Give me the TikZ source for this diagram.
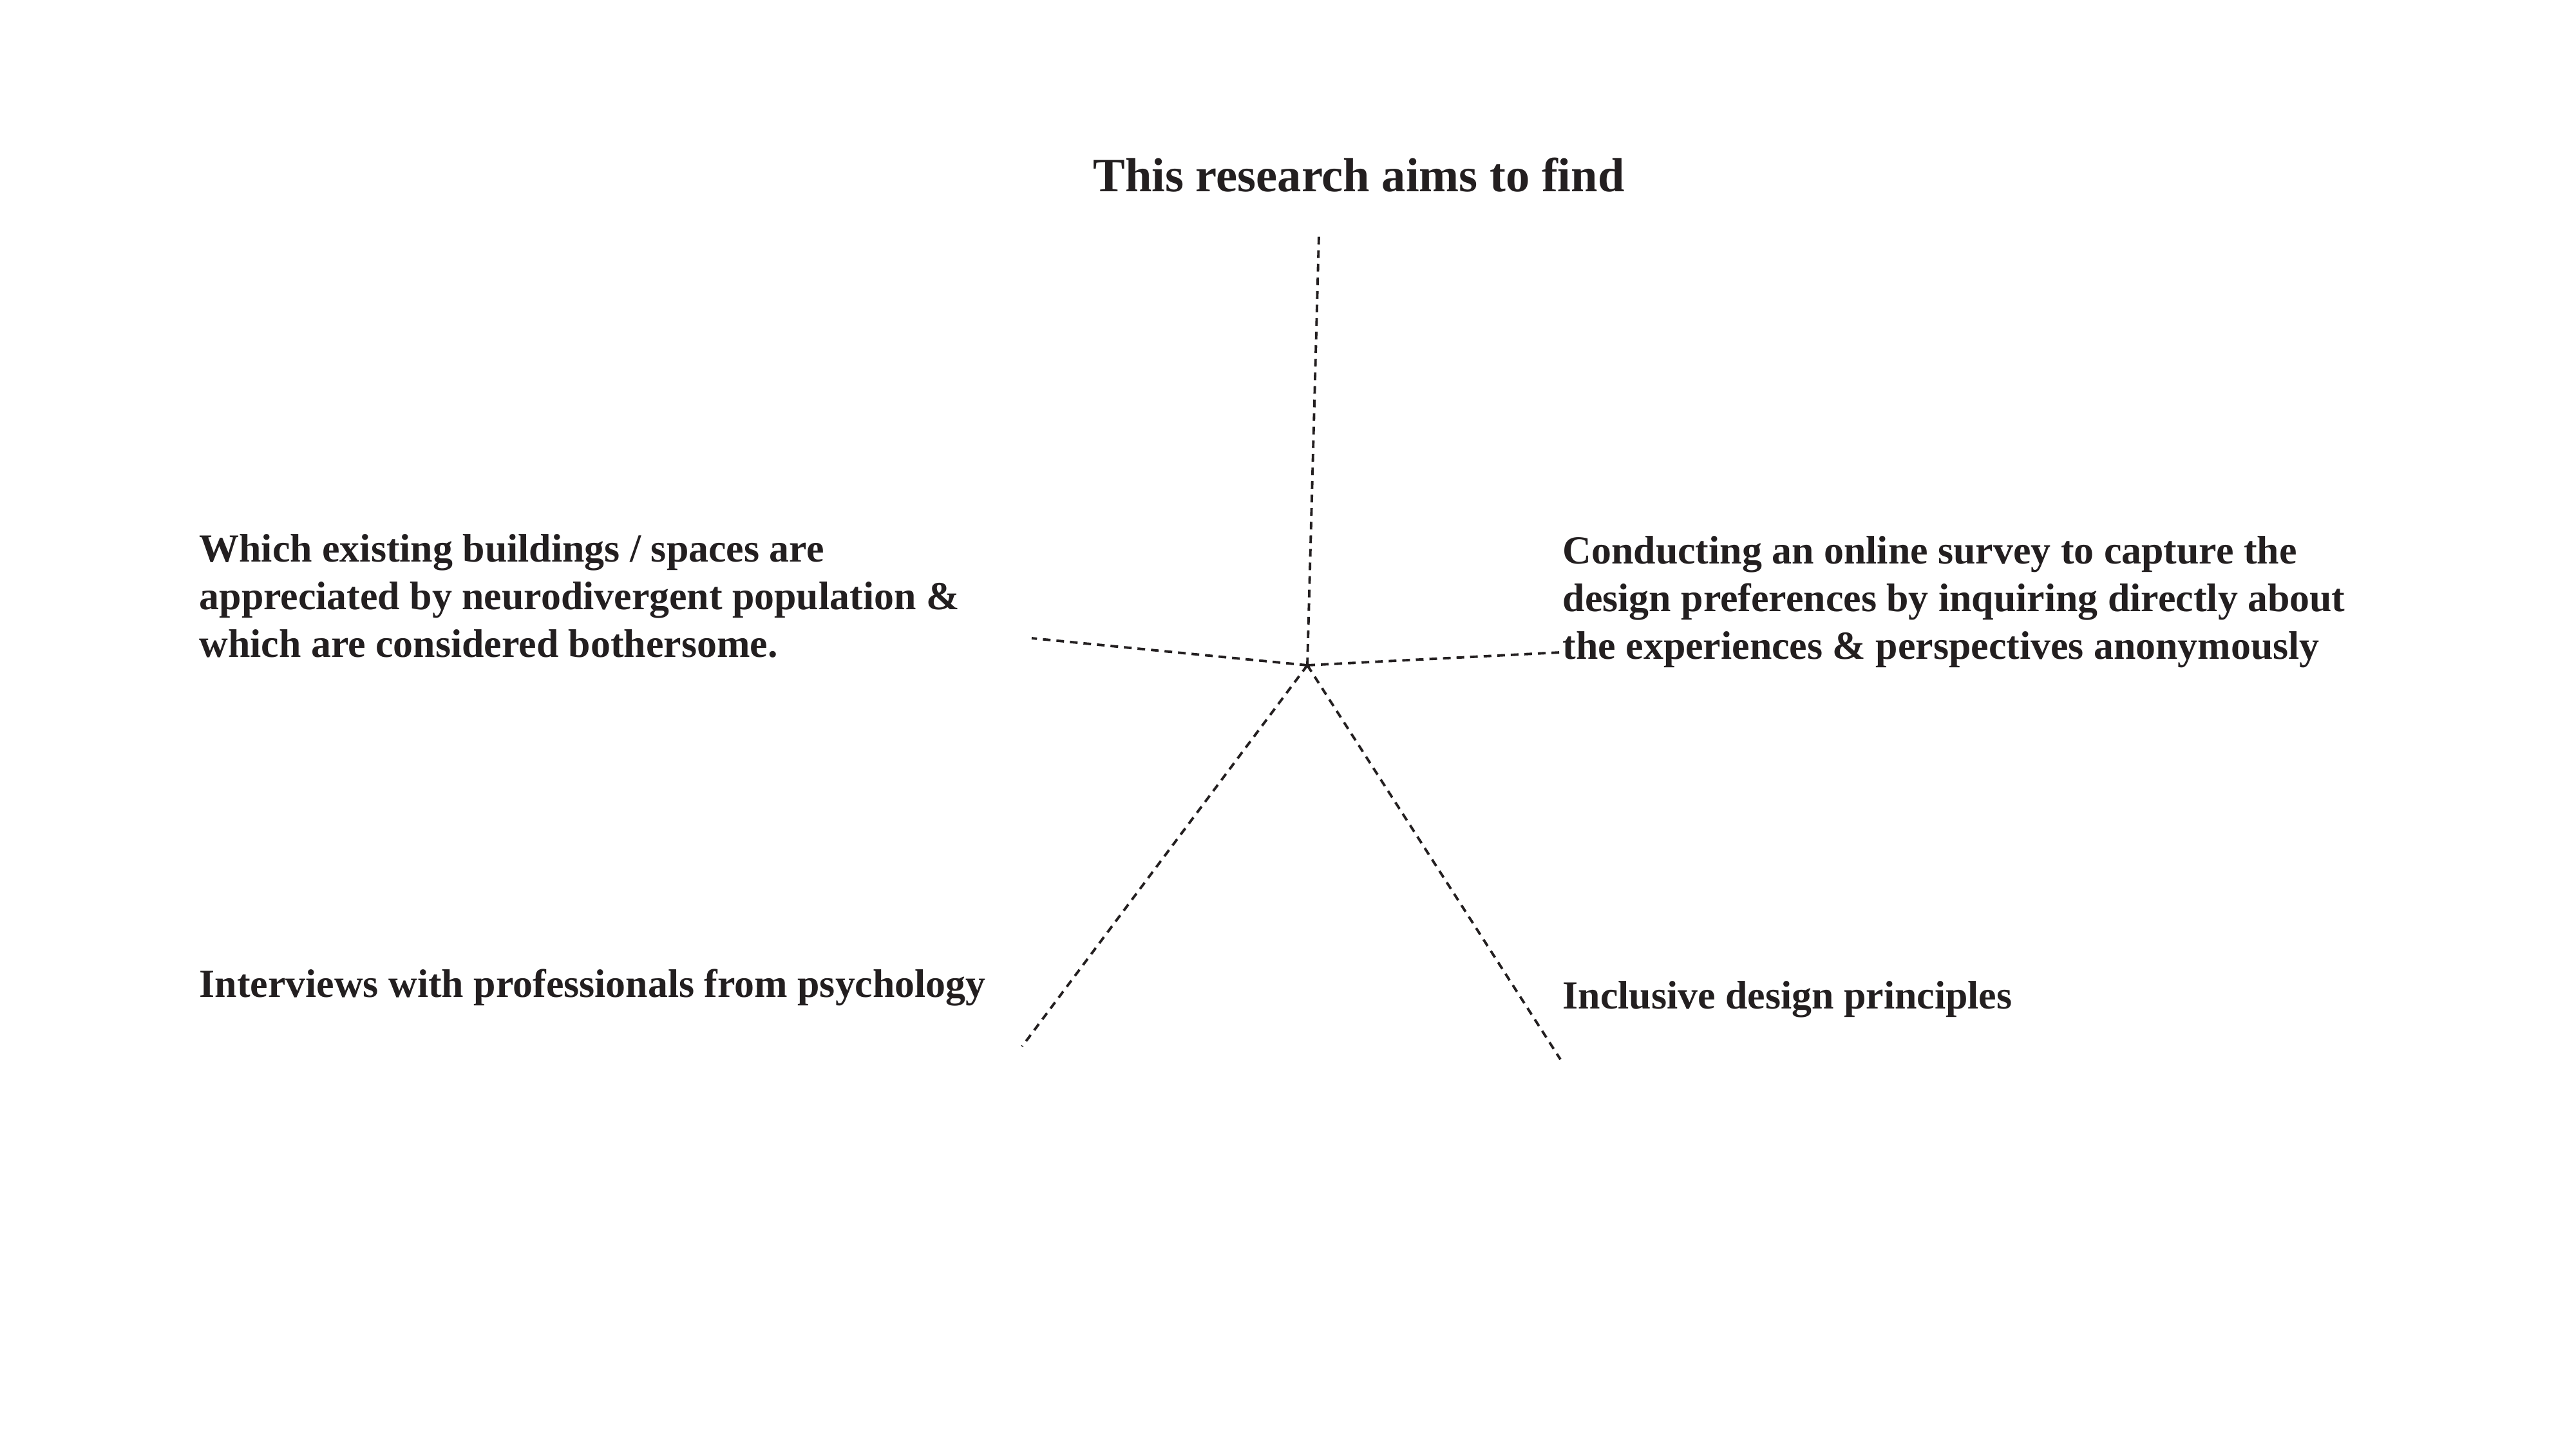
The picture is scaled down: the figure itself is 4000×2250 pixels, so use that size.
\documentclass[tikz,border=0pt]{standalone}
\usepackage{fontspec}
\setmainfont{Liberation Serif}
\usetikzlibrary{positioning}
\definecolor{inkgray}{RGB}{35,31,32}

\begin{document}
\begin{tikzpicture}[x=0.1mm,y=-0.1mm,
    aim/.style={anchor=base west,align=left,inner sep=0pt,text=inkgray,font=\bfseries\fontsize{17.6}{21}\selectfont},
    spoke/.style={draw=inkgray,line width=1.1pt,dash pattern=on 3.4pt off 2.6pt}
]
\useasboundingbox (0,0) rectangle (4000,2250);

\node[anchor=base,inner sep=0pt,text=inkgray,font=\bfseries\fontsize{21.2}{25}\selectfont] (title) at (2110,298) {This research aims to find};

% multi-line texts sit on their last line
\node[aim] (spaces) at (309,1020) {Which existing buildings / spaces are\\appreciated by neurodivergent population \&\\which are considered bothersome.};
\node[aim] (survey) at (2426,1023) {Conducting an online survey to capture the\\design preferences by inquiring directly about\\the experiences \& perspectives anonymously};
\node[aim] (interviews) at (309,1548) {Interviews with professionals from psychology};
\node[aim] (inclusive) at (2426,1566) {Inclusive design principles};

% spokes from the hub
\coordinate (hub) at (2030,1033);
\coordinate (topend) at (2048,365);
\coordinate (leftend) at (1602,991);
\coordinate (rightend) at (2423,1013);
\coordinate (lowleft) at (1587,1625);
\coordinate (lowright) at (2423,1645);

\draw[spoke] (hub) -- (topend);
\draw[spoke] (hub) -- (leftend);
\draw[spoke] (hub) -- (rightend);
\draw[spoke] (hub) -- (lowleft);
\draw[spoke] (hub) -- (lowright);
\end{tikzpicture}
\end{document}
